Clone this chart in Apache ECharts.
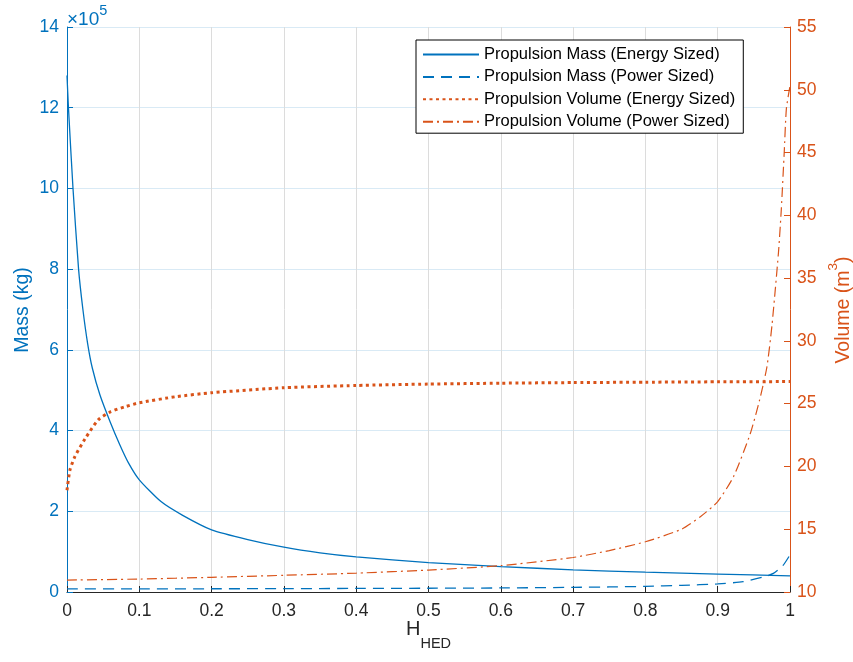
<!DOCTYPE html>
<html>
<head>
<meta charset="utf-8">
<script src="https://cdn.jsdelivr.net/npm/echarts@6/dist/echarts.min.js"></script>
<style>
  html, body { margin: 0; padding: 0; background: #fff; }
  #chart { width: 853px; height: 662px; }
</style>
</head>
<body>
<div id="chart"></div>
<script>
// H_HED sample points per series
const massEnergyX = [0, 0.002, 0.0083, 0.016, 0.022, 0.0286, 0.035, 0.0456, 0.06, 0.073, 0.085, 0.1, 0.13, 0.16, 0.2, 0.25, 0.3, 0.35, 0.4, 0.5, 0.6, 0.7, 0.8, 0.9, 1.0]
const massEnergyY = [1280000, 1200000, 1000000, 800000, 700000, 615000, 555000, 488000, 420000, 365000, 320000, 278000, 224000, 190000, 154000, 130000, 111000, 97000, 87000, 73000, 63000, 55000, 49000, 44500, 40000]

const massPowerX = [0, 0.1, 0.2, 0.3, 0.4, 0.5, 0.6, 0.7, 0.75, 0.8, 0.85, 0.9, 0.935, 0.963, 0.977, 0.99, 1.0]
const massPowerY = [7500, 7700, 8000, 8300, 8800, 9300, 10000, 11500, 12500, 14000, 16500, 20000, 25500, 37000, 46000, 65000, 92000]

const volEnergyX = [0, 0.004, 0.011, 0.025, 0.043, 0.06, 0.08, 0.1, 0.15, 0.2, 0.3, 0.4, 0.5, 0.6, 0.7, 0.8, 0.9, 1.0]
const volEnergyY = [18.1, 19.7, 20.8, 22.2, 23.7, 24.35, 24.75, 25.07, 25.55, 25.87, 26.27, 26.45, 26.56, 26.63, 26.68, 26.71, 26.74, 26.76]

const volPowerX = [0, 0.1, 0.2, 0.3, 0.4, 0.5, 0.6, 0.7, 0.75, 0.8, 0.85, 0.876, 0.9, 0.922, 0.945, 0.958, 0.968, 0.975, 0.984, 0.988, 0.992, 0.995, 1.0]
const volPowerY = [10.95, 11.03, 11.17, 11.33, 11.5, 11.75, 12.1, 12.75, 13.3, 14.0, 15.0, 16.0, 17.2, 19.2, 22.6, 25.3, 27.9, 31.2, 37.0, 40.5, 45.0, 48.5, 50.3]

const seriesNames = [
  'Propulsion Mass (Energy Sized)',
  'Propulsion Mass (Power Sized)',
  'Propulsion Volume (Energy Sized)',
  'Propulsion Volume (Power Sized)'
]

const BLUE = '#0072BD'
const ORANGE = '#D95319'
const FONT = 'Liberation Sans'

const zip = (xs, ys) => xs.map((x, i) => [x, ys[i]])

const chart = echarts.init(document.getElementById('chart'))

const option = {
  backgroundColor: '#fff',
  animation: false,
  textStyle: { fontFamily: FONT },
  grid: { left: 67, right: 63, top: 27, bottom: 70, containLabel: false },
  legend: {
    orient: 'vertical',
    left: 416,
    top: 40,
    data: seriesNames,
    itemWidth: 56,
    itemHeight: 14,
    itemGap: 5.4,
    padding: [6, 8, 3, 6],
    borderColor: '#000',
    borderWidth: 1,
    borderRadius: 0,
    backgroundColor: '#fff',
    itemStyle: { opacity: 0, borderWidth: 0 },
    textStyle: { color: '#000', fontSize: 16.5, fontFamily: FONT }
  },
  xAxis: {
    type: 'value',
    min: 0,
    max: 1,
    interval: 0.1,
    axisLine: { lineStyle: { color: '#262626', width: 1 } },
    axisTick: { inside: true, length: 6, lineStyle: { color: '#262626' } },
    axisLabel: { color: '#262626', fontSize: 17.5, margin: 10, formatter: v => String(+v.toFixed(1)) },
    splitLine: { show: true, lineStyle: { color: '#dcdcdc', width: 1 } }
  },
  yAxis: [
    {
      type: 'value',
      position: 'left',
      min: 0,
      max: 1400000,
      interval: 200000,
      axisLine: { show: true, lineStyle: { color: BLUE, width: 1 } },
      axisTick: { show: true, inside: true, length: 6, lineStyle: { color: BLUE } },
      axisLabel: { color: BLUE, fontSize: 17.5, margin: 8, formatter: v => String(v / 100000) },
      splitLine: { show: true, lineStyle: { color: '#d9eaf5', width: 1 } }
    },
    {
      type: 'value',
      position: 'right',
      min: 10,
      max: 55,
      interval: 5,
      axisLine: { show: true, lineStyle: { color: ORANGE, width: 1 } },
      axisTick: { show: true, inside: true, length: 6, lineStyle: { color: ORANGE } },
      axisLabel: { color: ORANGE, fontSize: 17.5, margin: 7 },
      splitLine: { show: false }
    }
  ],
  series: [
    {
      name: seriesNames[0],
      type: 'line',
      yAxisIndex: 0,
      data: zip(massEnergyX, massEnergyY),
      symbol: 'none',
      smooth: 0.2,
      lineStyle: { color: BLUE, width: 1.3, type: 'solid' },
      itemStyle: { color: BLUE }
    },
    {
      name: seriesNames[1],
      type: 'line',
      yAxisIndex: 0,
      data: zip(massPowerX, massPowerY),
      symbol: 'none',
      smooth: 0.2,
      lineStyle: { color: BLUE, width: 1.3, type: [11, 7] },
      itemStyle: { color: BLUE }
    },
    {
      name: seriesNames[2],
      type: 'line',
      yAxisIndex: 1,
      data: zip(volEnergyX, volEnergyY),
      symbol: 'none',
      smooth: 0.2,
      lineStyle: { color: ORANGE, width: 3, type: [3, 3.5], cap: 'butt' },
      itemStyle: { color: ORANGE }
    },
    {
      name: seriesNames[3],
      type: 'line',
      yAxisIndex: 1,
      data: zip(volPowerX, volPowerY),
      symbol: 'none',
      smooth: 0.2,
      lineStyle: { color: ORANGE, width: 1.2, type: [10, 4, 2, 4] },
      itemStyle: { color: ORANGE }
    }
  ],
  graphic: [
    {
      type: 'text',
      left: 67,
      top: 3,
      style: {
        text: '{a|\u00d710}{b|5}',
        rich: {
          a: { fontSize: 19, fill: BLUE, fontFamily: FONT, lineHeight: 26, verticalAlign: 'bottom' },
          b: { fontSize: 14.5, fill: BLUE, fontFamily: FONT, lineHeight: 26, verticalAlign: 'top' }
        }
      }
    },
    {
      type: 'text',
      x: 23,
      y: 310,
      rotation: Math.PI / 2,
      style: {
        text: 'Mass (kg)',
        fill: BLUE,
        fontSize: 19.5,
        fontFamily: FONT,
        align: 'center',
        verticalAlign: 'middle'
      }
    },
    {
      type: 'text',
      x: 840,
      y: 310,
      rotation: Math.PI / 2,
      style: {
        text: '{a|Volume (m}{b|3}{a|)}',
        align: 'center',
        verticalAlign: 'middle',
        rich: {
          a: { fontSize: 19.5, fill: ORANGE, fontFamily: FONT, lineHeight: 28, verticalAlign: 'bottom' },
          b: { fontSize: 13.5, fill: ORANGE, fontFamily: FONT, lineHeight: 28, verticalAlign: 'top' }
        }
      }
    },
    {
      type: 'text',
      x: 428.5,
      y: 635,
      style: {
        text: '{a|H}{b|HED}',
        align: 'center',
        verticalAlign: 'middle',
        rich: {
          a: { fontSize: 20, fill: '#262626', fontFamily: FONT, lineHeight: 32, verticalAlign: 'top' },
          b: { fontSize: 14.5, fill: '#262626', fontFamily: FONT, lineHeight: 32, verticalAlign: 'bottom' }
        }
      }
    }
  ]
}

chart.setOption(option)
</script>
</body>
</html>
